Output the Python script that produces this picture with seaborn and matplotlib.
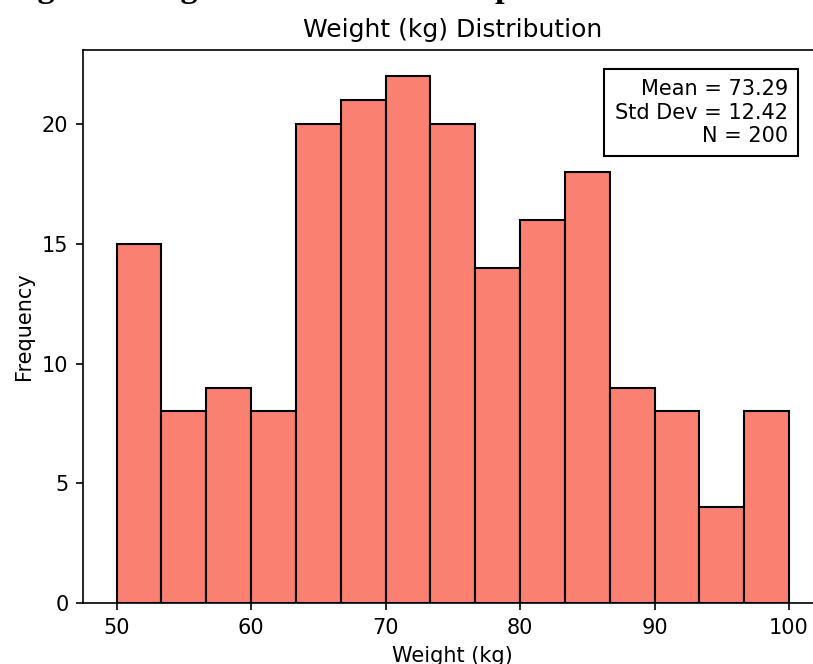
import matplotlib

matplotlib.use("Agg")
import matplotlib.pyplot as plt
import numpy as np
import pandas as pd
import seaborn as sns

# bin edges run 50..100 in 15 equal bins; counts
bin_start = 50
bin_end = 100
n_bins = 15
counts = [15, 8, 9, 8, 20, 21, 22, 20, 14, 16, 18, 9, 8, 4, 8]
stats_text = ["Mean = 73.29", "Std Dev = 12.42", "N = 200"]

width = (bin_end - bin_start) / n_bins
centers = bin_start + width * (np.arange(n_bins) + 0.5)
df = pd.DataFrame({"weight": centers, "count": counts})

DPI = 150
fig = plt.figure(figsize=(813 / DPI, 664 / DPI), dpi=DPI)
# the reference is a crop of a wider figure, so the axes run past the right edge
ax = fig.add_axes([83 / 813, 61 / 664, 739.6 / 813, 553 / 664])

sns.histplot(
    data=df,
    x="weight",
    weights="count",
    bins=n_bins,
    binrange=(bin_start, bin_end),
    color="salmon",
    edgecolor="black",
    linewidth=1.0,
    alpha=1.0,
    ax=ax,
)
ax.set_title("Weight (kg) Distribution", fontsize=12)
ax.set_xlabel("Weight (kg)")
ax.set_ylabel("Frequency")
ax.set_yticks([0, 5, 10, 15, 20])

ax.text(
    0.953,
    0.947,
    "\n".join(stats_text),
    transform=ax.transAxes,
    ha="right",
    va="top",
    multialignment="right",
    fontsize=10,
    bbox=dict(boxstyle="square,pad=0.5", facecolor="white", edgecolor="black"),
)

# caption of the parent figure, mostly cropped away above the top edge
fig.text(
    0.008,
    1.0 + 2.5 / 664,
    "Figure: Weight Distribution Comparison",
    family="Liberation Serif",
    fontweight="bold",
    fontsize=16.5,
    va="baseline",
    ha="left",
)

fig.savefig("out.png", dpi=DPI)
